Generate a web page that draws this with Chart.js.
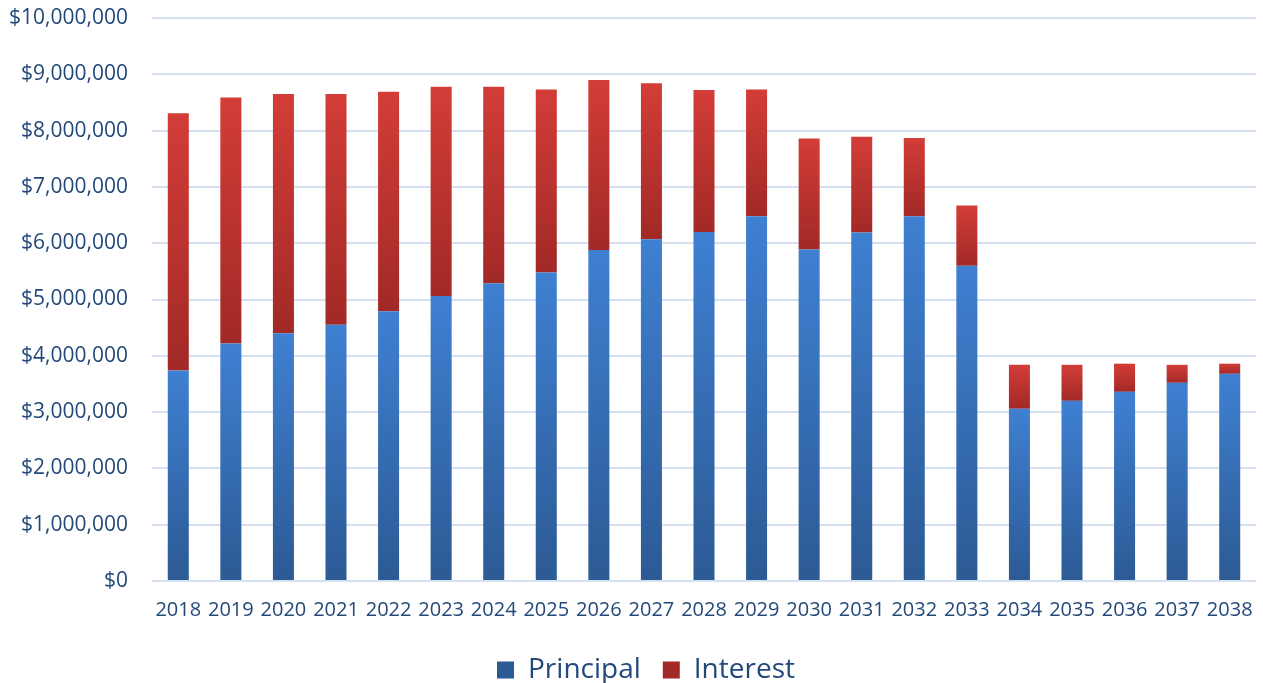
<!DOCTYPE html>
<html>
<head>
<meta charset="utf-8">
<title>Debt service by year</title>
<script src="https://cdn.jsdelivr.net/npm/chart.js@4/dist/chart.umd.min.js"></script>
<style>
	html, body { margin: 0; padding: 0; background: #fff; }
	#box { width: 1263px; height: 683px; }
</style>
</head>
<body>
<div id="box"><canvas id="chart"></canvas></div>
<script>
/*
 * Annual debt service, split into principal and interest.
 */
const years = [
	'2018', '2019', '2020', '2021', '2022', '2023', '2024',
	'2025', '2026', '2027', '2028', '2029', '2030', '2031',
	'2032', '2033', '2034', '2035', '2036', '2037', '2038',
];

const principal = [
	3740000, 4220000, 4400000, 4550000, 4790000, 5060000, 5290000,
	5480000, 5880000, 6070000, 6200000, 6480000, 5890000, 6190000,
	6480000, 5600000, 3060000, 3200000, 3360000, 3520000, 3680000,
];

const interest = [
	4570000, 4370000, 4250000, 4100000, 3900000, 3720000, 3490000,
	3250000, 3020000, 2770000, 2520000, 2250000, 1970000, 1700000,
	1390000, 1070000, 780000, 640000, 500000, 320000, 180000,
];

const yTicks = [0, 1e6, 2e6, 3e6, 4e6, 5e6, 6e6, 7e6, 8e6, 9e6, 10e6];

const textColor = '#23497a';
const gridColor = '#d5e1f0';
const fontFamily = '"Open Sans", Lato, sans-serif';

/*
 * Each bar segment gets its own vertical gradient: lighter on top,
 * darker towards its base.  Segment ends come from the stacked values.
 */
function segmentFill(ctx, light, dark, solid)
{
	const chart = ctx.chart;
	if (!chart.chartArea || ctx.type !== 'data')
		return solid;
	const i = ctx.dataIndex;
	const y = chart.scales.y;
	const base = ctx.datasetIndex === 0 ? 0 : principal[i];
	const top = ctx.datasetIndex === 0 ? principal[i] :
		principal[i] + interest[i];
	const y0 = y.getPixelForValue(base);
	const y1 = y.getPixelForValue(top);
	if (!isFinite(y0) || !isFinite(y1) || y0 === y1)
		return solid;
	const g = chart.ctx.createLinearGradient(0, y1, 0, y0);
	g.addColorStop(0, light);
	g.addColorStop(1, dark);
	return g;
}

/* The legend sits a little right of the canvas centre. */
const legendNudge = {
	id: 'legendNudge',
	afterLayout(chart) {
		chart.legend.left += 18;
		chart.legend.right += 18;
	},
};

new Chart(document.getElementById('chart'), {
	type: 'bar',
	data: {
		labels: years,
		datasets: [{
			label: 'Principal',
			data: principal,
			backgroundColor: (ctx) =>
				segmentFill(ctx, '#3f80d2', '#2c5a94', '#3a72bd'),
		}, {
			label: 'Interest',
			data: interest,
			backgroundColor: (ctx) =>
				segmentFill(ctx, '#d33d38', '#a22926', '#c2332f'),
		}],
	},
	plugins: [legendNudge],
	options: {
		responsive: true,
		maintainAspectRatio: false,
		animation: false,
		barPercentage: 0.4,
		categoryPercentage: 1,
		layout: {
			padding: { top: 18, right: 7, bottom: -11, left: 0 },
		},
		plugins: {
			tooltip: { enabled: false },
			legend: {
				position: 'bottom',
				labels: {
					color: textColor,
					boxWidth: 17,
					boxHeight: 17,
					padding: 22,
					font: { family: fontFamily, size: 28 },
				},
			},
		},
		scales: {
			x: {
				stacked: true,
				grid: { display: false },
				border: { color: gridColor },
				afterFit: (scale) => {
					scale.height += 3;
				},
				ticks: {
					color: textColor,
					padding: 9,
					maxRotation: 0,
					autoSkip: false,
					font: { family: fontFamily, size: 20 },
				},
			},
			y: {
				stacked: true,
				min: 0,
				max: 10e6,
				afterBuildTicks: (scale) => {
					scale.ticks = yTicks.map(v => ({ value: v }));
				},
				afterFit: (scale) => {
					scale.width = 152;
					scale.paddingTop = 0;
					scale.paddingBottom = 0;
				},
				grid: {
					color: gridColor,
					lineWidth: 2,
					drawTicks: false,
				},
				border: { display: false },
				ticks: {
					color: textColor,
					padding: 24,
					font: { family: fontFamily, size: 21 },
					callback: (v) => '$' + Number(v).toLocaleString('en-US'),
				},
			},
		},
	},
});
</script>
</body>
</html>
